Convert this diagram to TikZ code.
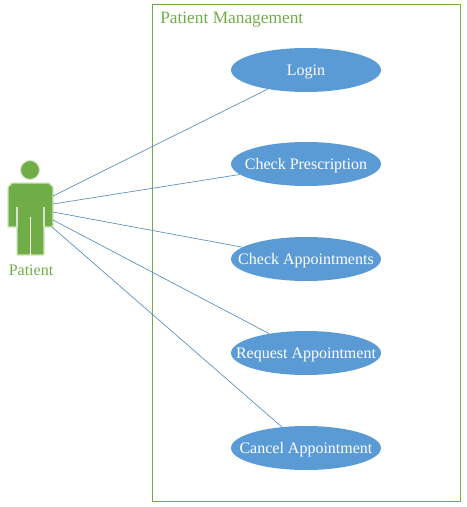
\documentclass[tikz,border=0pt]{standalone}
\usepackage{fontspec}
\setmainfont{Liberation Serif}
\usetikzlibrary{shapes.geometric}
\definecolor{casegreen}{HTML}{70AD47}
\definecolor{caseblue}{HTML}{5B9BD5}
\definecolor{caseline}{HTML}{5B8DB8}
\definecolor{actoredge}{HTML}{D3E3C8}
\newcommand{\casetext}[1]{\makebox[0pt]{\raisebox{-3.75pt}[0pt][0pt]{#1}}}
\tikzset{
    usecase/.style={ellipse, fill=caseblue, text=white, minimum width=112.5pt, minimum height=33pt, inner sep=0pt, font=\fontsize{12}{14}\selectfont},
    assoc/.style={caseline, line width=0.5pt},
    greentext/.style={text=casegreen, inner sep=0pt}
}

\begin{document}
\begin{tikzpicture}[x=0.75pt, y=-0.75pt, line join=round]
        \useasboundingbox (0,0) rectangle (467,507);

        % system boundary
        \draw[casegreen, line width=0.6pt] (152,4) rectangle (460,501);
        \node[greentext, anchor=base west, font=\fontsize{13}{15}\selectfont] (title) at (160,23.5) {Patient Management};

        % use cases
        \def\cx{306}
        \node[usecase] (login) at (\cx,70) {\casetext{Login}};
        \node[usecase] (prescription) at (\cx,164) {\casetext{Check Prescription}};
        \node[usecase] (check) at (\cx,259) {\casetext{Check Appointments}};
        \node[usecase] (request) at (\cx,353) {\casetext{Request Appointment}};
        \node[usecase] (cancel) at (\cx,448) {\casetext{Cancel Appointment}};

        % actor
        \node[circle, fill=casegreen, draw=actoredge, line width=0.8pt, minimum size=14.2pt, inner sep=0pt] (head) at (30,170) {};
        \draw[fill=casegreen, draw=actoredge, line width=0.9pt]
            (12,183) -- (49,183) -- (53,187) -- (53,227) -- (44,227) -- (44,255)
            -- (17,255) -- (17,227) -- (8,227) -- (8,187) -- cycle;
        \draw[actoredge, line width=0.8pt] (17,207) -- (17,227);
        \draw[actoredge, line width=0.8pt] (44,207) -- (44,227);
        \draw[white, line width=0.8pt] (30.5,217) -- (30.5,255);
        \node[greentext, font=\fontsize{12}{14}\selectfont] (patient) at (31,270) {Patient};

        % points on the actor where the lines start
        \coordinate (p1) at (53,196);
        \coordinate (p2) at (53,204);
        \coordinate (p3) at (53,212);
        \coordinate (p4) at (53,220);
        \coordinate (p5) at (52,227);

        % associations
        \draw[assoc] (p1) -- (login);
        \draw[assoc] (p2) -- (prescription);
        \draw[assoc] (p3) -- (check);
        \draw[assoc] (p4) -- (request);
        \draw[assoc] (p5) -- (cancel);
\end{tikzpicture}
\end{document}
